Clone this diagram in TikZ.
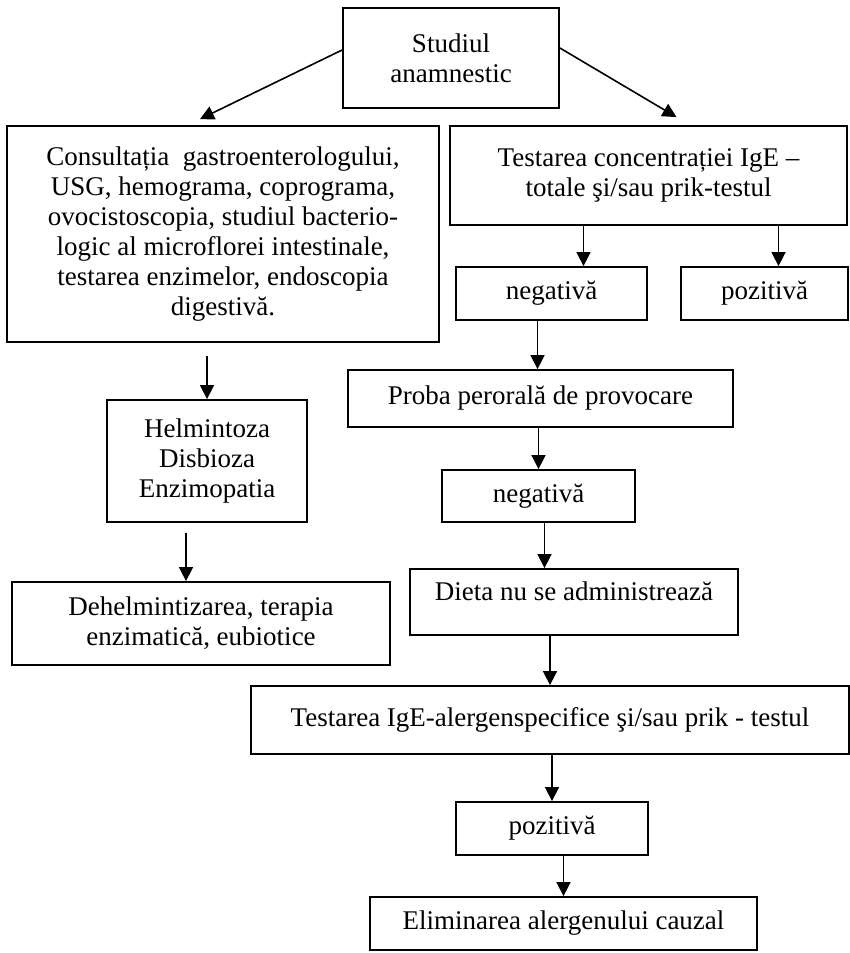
\documentclass[tikz,border=0pt]{standalone}
\usepackage{fontspec}
\setmainfont{Liberation Serif}
\usetikzlibrary{arrows.meta}
\begin{document}
\begin{tikzpicture}[x=0.5pt,y=-0.5pt,font=\fontsize{13.5}{15}\selectfont,
  box/.style={draw,line width=.9pt,align=center,inner sep=2pt},
  arr/.style={line width=.8pt,-{Triangle[length=7pt,width=7pt]}}]
\useasboundingbox (0,0) rectangle (850,953);

%Anamneza
\node[box,minimum width=108pt,minimum height=50pt] (stud) at (451,58) {Studiul\\anamnestic};

%Ramura stanga
\node[box,minimum width=216pt,minimum height=108pt] (cons) at (223,234)
  {Consultația\ \ gastroenterologului,\\USG, hemograma, coprograma,\\ovocistoscopia, studiul bacterio-\\logic al microflorei intestinale,\\testarea enzimelor, endoscopia\\digestivă.};
\node[box,minimum width=100pt,minimum height=61pt] (helm) at (207,461) {Helmintoza\\Disbioza\\Enzimopatia};
\node[box,minimum width=189pt,minimum height=41.5pt] (dehel) at (201,623.5) {Dehelmintizarea, terapia\\enzimatică, eubiotice};

%Ramura dreapta
\node[box,minimum width=198.5pt,minimum height=49.5pt] (test) at (648.5,175.5) {Testarea concentrației IgE --\\totale şi/sau prik-testul};
\node[box,minimum width=95.5pt,minimum height=26.5pt] (neg) at (551.5,293.5) {negativă};
\node[box,minimum width=83.5pt,minimum height=26.5pt] (poz) at (764.5,293.5) {pozitivă};
\node[box,minimum width=192.5pt,minimum height=28.5pt] (prob) at (540.5,398.5) {Proba perorală de provocare};
\node[box,minimum width=96.5pt,minimum height=26pt] (neg2) at (538.5,496) {negativă};
\node[box,minimum width=164pt,minimum height=33pt] (diet) at (574,602) {Dieta nu se administrează\\[-4pt]};
\node[box,minimum width=299pt,minimum height=34pt] (ige) at (550,720) {Testarea IgE-alergenspecifice şi/sau prik - testul};
\node[box,minimum width=96pt,minimum height=26.5pt] (poz2) at (552,828.5) {pozitivă};
\node[box,minimum width=193.5pt,minimum height=26.5pt] (elim) at (563.5,923.5) {Eliminarea alergenului cauzal};

%Sageti
\draw[arr] ([yshift=4pt]stud.west) -- ([xshift=-11.5pt,yshift=3pt]cons.north);
\draw[arr] ([yshift=5pt]stud.east) -- ([xshift=14pt,yshift=4pt]test.north);

\draw[arr] ([yshift=-6.5pt]helm.north |- cons.south) -- (helm.north);
\draw[arr] ([xshift=-10.5pt,yshift=-5pt]helm.south) -- ([xshift=-10.5pt]helm.south |- dehel.north);

\draw[arr] ([xshift=16pt]neg.north |- test.south) -- ([xshift=16pt]neg.north);
\draw[arr] ([xshift=7pt]poz.north |- test.south) -- ([xshift=7pt]poz.north);
\draw[arr] ([xshift=-7pt]neg.south) -- ([xshift=-7pt]neg.south |- prob.north);
\draw[arr] (neg2.north |- prob.south) -- (neg2.north);
\draw[arr] ([xshift=3pt]neg2.south) -- ([xshift=3pt]neg2.south |- diet.north);
\draw[arr] (ige.north |- diet.south) -- (ige.north);
\draw[arr] (poz2.north |- ige.south) -- (poz2.north);
\draw[arr] (elim.north |- poz2.south) -- (elim.north);

\end{tikzpicture}
\end{document}
